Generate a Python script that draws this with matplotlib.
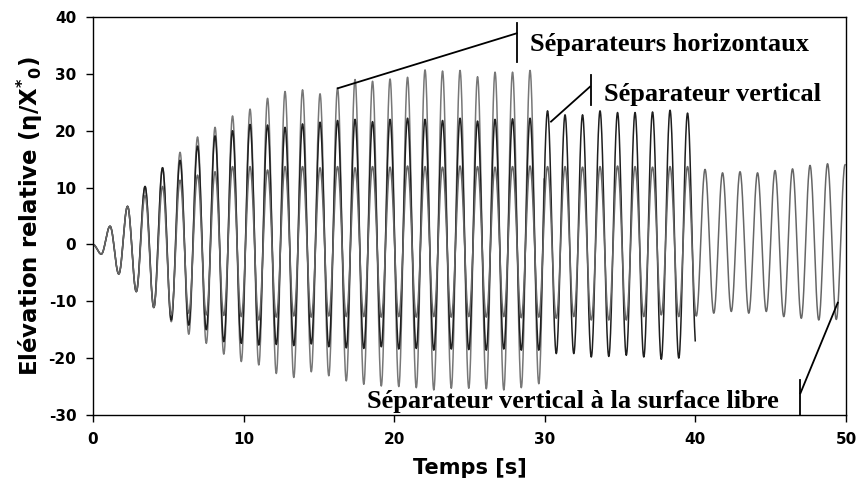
import numpy as np
import matplotlib
matplotlib.use("Agg")
import matplotlib.pyplot as plt

plt.rcParams['font.family'] = ['DejaVu Sans']
plt.rcParams['mathtext.fontset'] = 'dejavusans'
plt.rcParams['axes.unicode_minus'] = False

# période de la houle et instant du premier maximum
periode = 1.162
t_premier_max = 1.13

# maxima / minima successifs (un par cycle)
horiz_max = [3.2, 6.7, 10.2, 13.5, 16.2, 18.9, 20.6, 22.6, 23.8, 25.7,
             26.9, 27.2, 26.5, 27.5, 29.0, 28.7, 29.1, 29.4, 30.7, 30.5,
             30.6, 29.5, 30.3, 30.3, 30.6, 30.5]
horiz_min = [-1.7, -5.2, -8.3, -11.1, -13.6, -15.8, -17.4, -19.3, -20.6, -21.2,
             -22.7, -23.4, -22.4, -23.1, -24.0, -24.6, -24.9, -25.0, -25.2, -25.6,
             -25.3, -25.3, -25.4, -25.6, -25.2, -24.5]
horiz_fin = 29.95

vert_max = [3.2, 6.7, 10.2, 13.5, 14.8, 17.3, 19.1, 20.0, 21.1, 21.0,
            20.6, 21.2, 21.5, 21.8, 22.0, 21.6, 22.0, 22.2, 22.0, 21.8,
            22.2, 21.7, 22.0, 22.1, 22.2, 23.5, 22.8, 22.8, 23.5, 23.2,
            23.2, 23.3, 23.6, 23.1]
vert_min = [-1.7, -5.2, -8.3, -11.1, -13.3, -14.2, -15.0, -17.1, -17.4, -17.7,
            -17.6, -17.8, -17.5, -18.0, -18.2, -18.3, -18.0, -18.4, -18.3, -18.6,
            -18.4, -18.5, -18.6, -18.4, -18.6, -18.6, -19.2, -19.2, -19.8, -19.7,
            -19.5, -19.8, -20.2, -20.0, -18.4]
vert_fin = 40.0

surf_max = [3.2, 6.7, 8.6, 10.2, 11.3, 12.2, 12.8, 13.7, 13.7, 13.1,
            13.7, 13.7, 13.5, 13.7, 13.5, 13.7, 13.6, 13.8, 13.7, 13.6,
            13.8, 13.7, 13.6, 13.7, 13.8, 13.7, 13.7, 13.6, 13.7, 13.8,
            13.7, 13.6, 13.7, 13.7, 13.2, 12.6, 12.8, 12.6, 13.0, 13.3,
            13.9, 14.2, 14.0]
surf_min = [-1.7, -5.2, -8.3, -11.1, -12.4, -12.1, -12.4, -12.5, -12.7, -13.3,
            -12.8, -12.6, -12.8, -12.6, -12.7, -12.7, -12.8, -12.7, -12.8, -12.7,
            -12.8, -12.7, -12.8, -12.7, -12.9, -12.8, -13.0, -12.7, -13.3, -13.3,
            -13.3, -12.7, -12.4, -12.7, -12.6, -12.1, -11.8, -12.1, -11.8, -12.7,
            -13.0, -13.3, -13.2]
surf_fin = 50.0


def signal(maxima, minima, t_fin):
    # enchaîne les extrema (min k puis max k) par des demi-cosinus
    tx, vx = [0.0], [0.0]
    for k in range(max(len(maxima), len(minima))):
        t_max = t_premier_max + k * periode
        if k < len(minima):
            tx.append(t_max - periode / 2)
            vx.append(minima[k])
        if k < len(maxima):
            tx.append(t_max)
            vx.append(maxima[k])
    t_all, v_all = [], []
    for i in range(len(tx) - 1):
        s = np.linspace(0, 1, 25, endpoint=False)
        t_all.append(tx[i] + s * (tx[i + 1] - tx[i]))
        v_all.append(vx[i] + (vx[i + 1] - vx[i]) * (1 - np.cos(np.pi * s)) / 2)
    t_all.append([tx[-1]])
    v_all.append([vx[-1]])
    t = np.concatenate(t_all)
    v = np.concatenate(v_all)
    garde = t <= t_fin
    return t[garde], v[garde]


fig = plt.figure(figsize=(8.59, 4.94), dpi=100)
ax = fig.add_axes([0.1083, 0.1599, 0.8766, 0.8057])

t, v = signal(horiz_max, horiz_min, horiz_fin)
ax.plot(t, v, color="#777777", lw=1.1)
t, v = signal(vert_max, vert_min, vert_fin)
ax.plot(t, v, color="#1e1e1e", lw=1.1)
t, v = signal(surf_max, surf_min, surf_fin)
ax.plot(t, v, color="#666666", lw=1.1)

ax.set_xlim(0, 50)
ax.set_ylim(-30, 40)
ax.set_xticks(range(0, 51, 10))
ax.set_yticks(range(-30, 41, 10))
ax.tick_params(direction="out", length=5, width=1, labelsize=11, pad=7)
for lab in ax.get_xticklabels() + ax.get_yticklabels():
    lab.set_fontweight("bold")
for sp in ax.spines.values():
    sp.set_linewidth(1.0)

ax.set_xlabel("Temps [s]", fontsize=15, fontweight="bold", labelpad=8)
ax.set_ylabel(r"Elévation relative (η/X$^{\mathbf{*}}{}_{\mathbf{0}}$)", fontsize=16.5,
              fontweight="bold")
ax.yaxis.set_label_coords(-0.064, 0.5)

# annotations
serif = dict(family="Liberation Serif", fontweight="bold", fontsize=19)
k = dict(color="black", lw=1.3)
ax.plot([16.25, 28.13], [27.46, 37.13], **k)
ax.plot([28.13, 28.13], [32.1, 38.9], **k)
ax.text(29.0, 35.1, "Séparateurs horizontaux", va="center", ha="left", **serif)

ax.plot([30.41, 33.0], [21.6, 27.74], **k)
ax.plot([33.07, 33.07], [24.5, 29.8], **k)
ax.text(33.9, 26.3, "Séparateur vertical", va="center", ha="left", **serif)

ax.plot([46.97, 49.45], [-26.18, -10.25], **k)
ax.plot([46.97, 46.97], [-30, -23.84], **k)
ax.text(31.84, -27.6, "Séparateur vertical à la surface libre",
        va="center", ha="center", **serif)

fig.savefig("out.png", dpi=100)
